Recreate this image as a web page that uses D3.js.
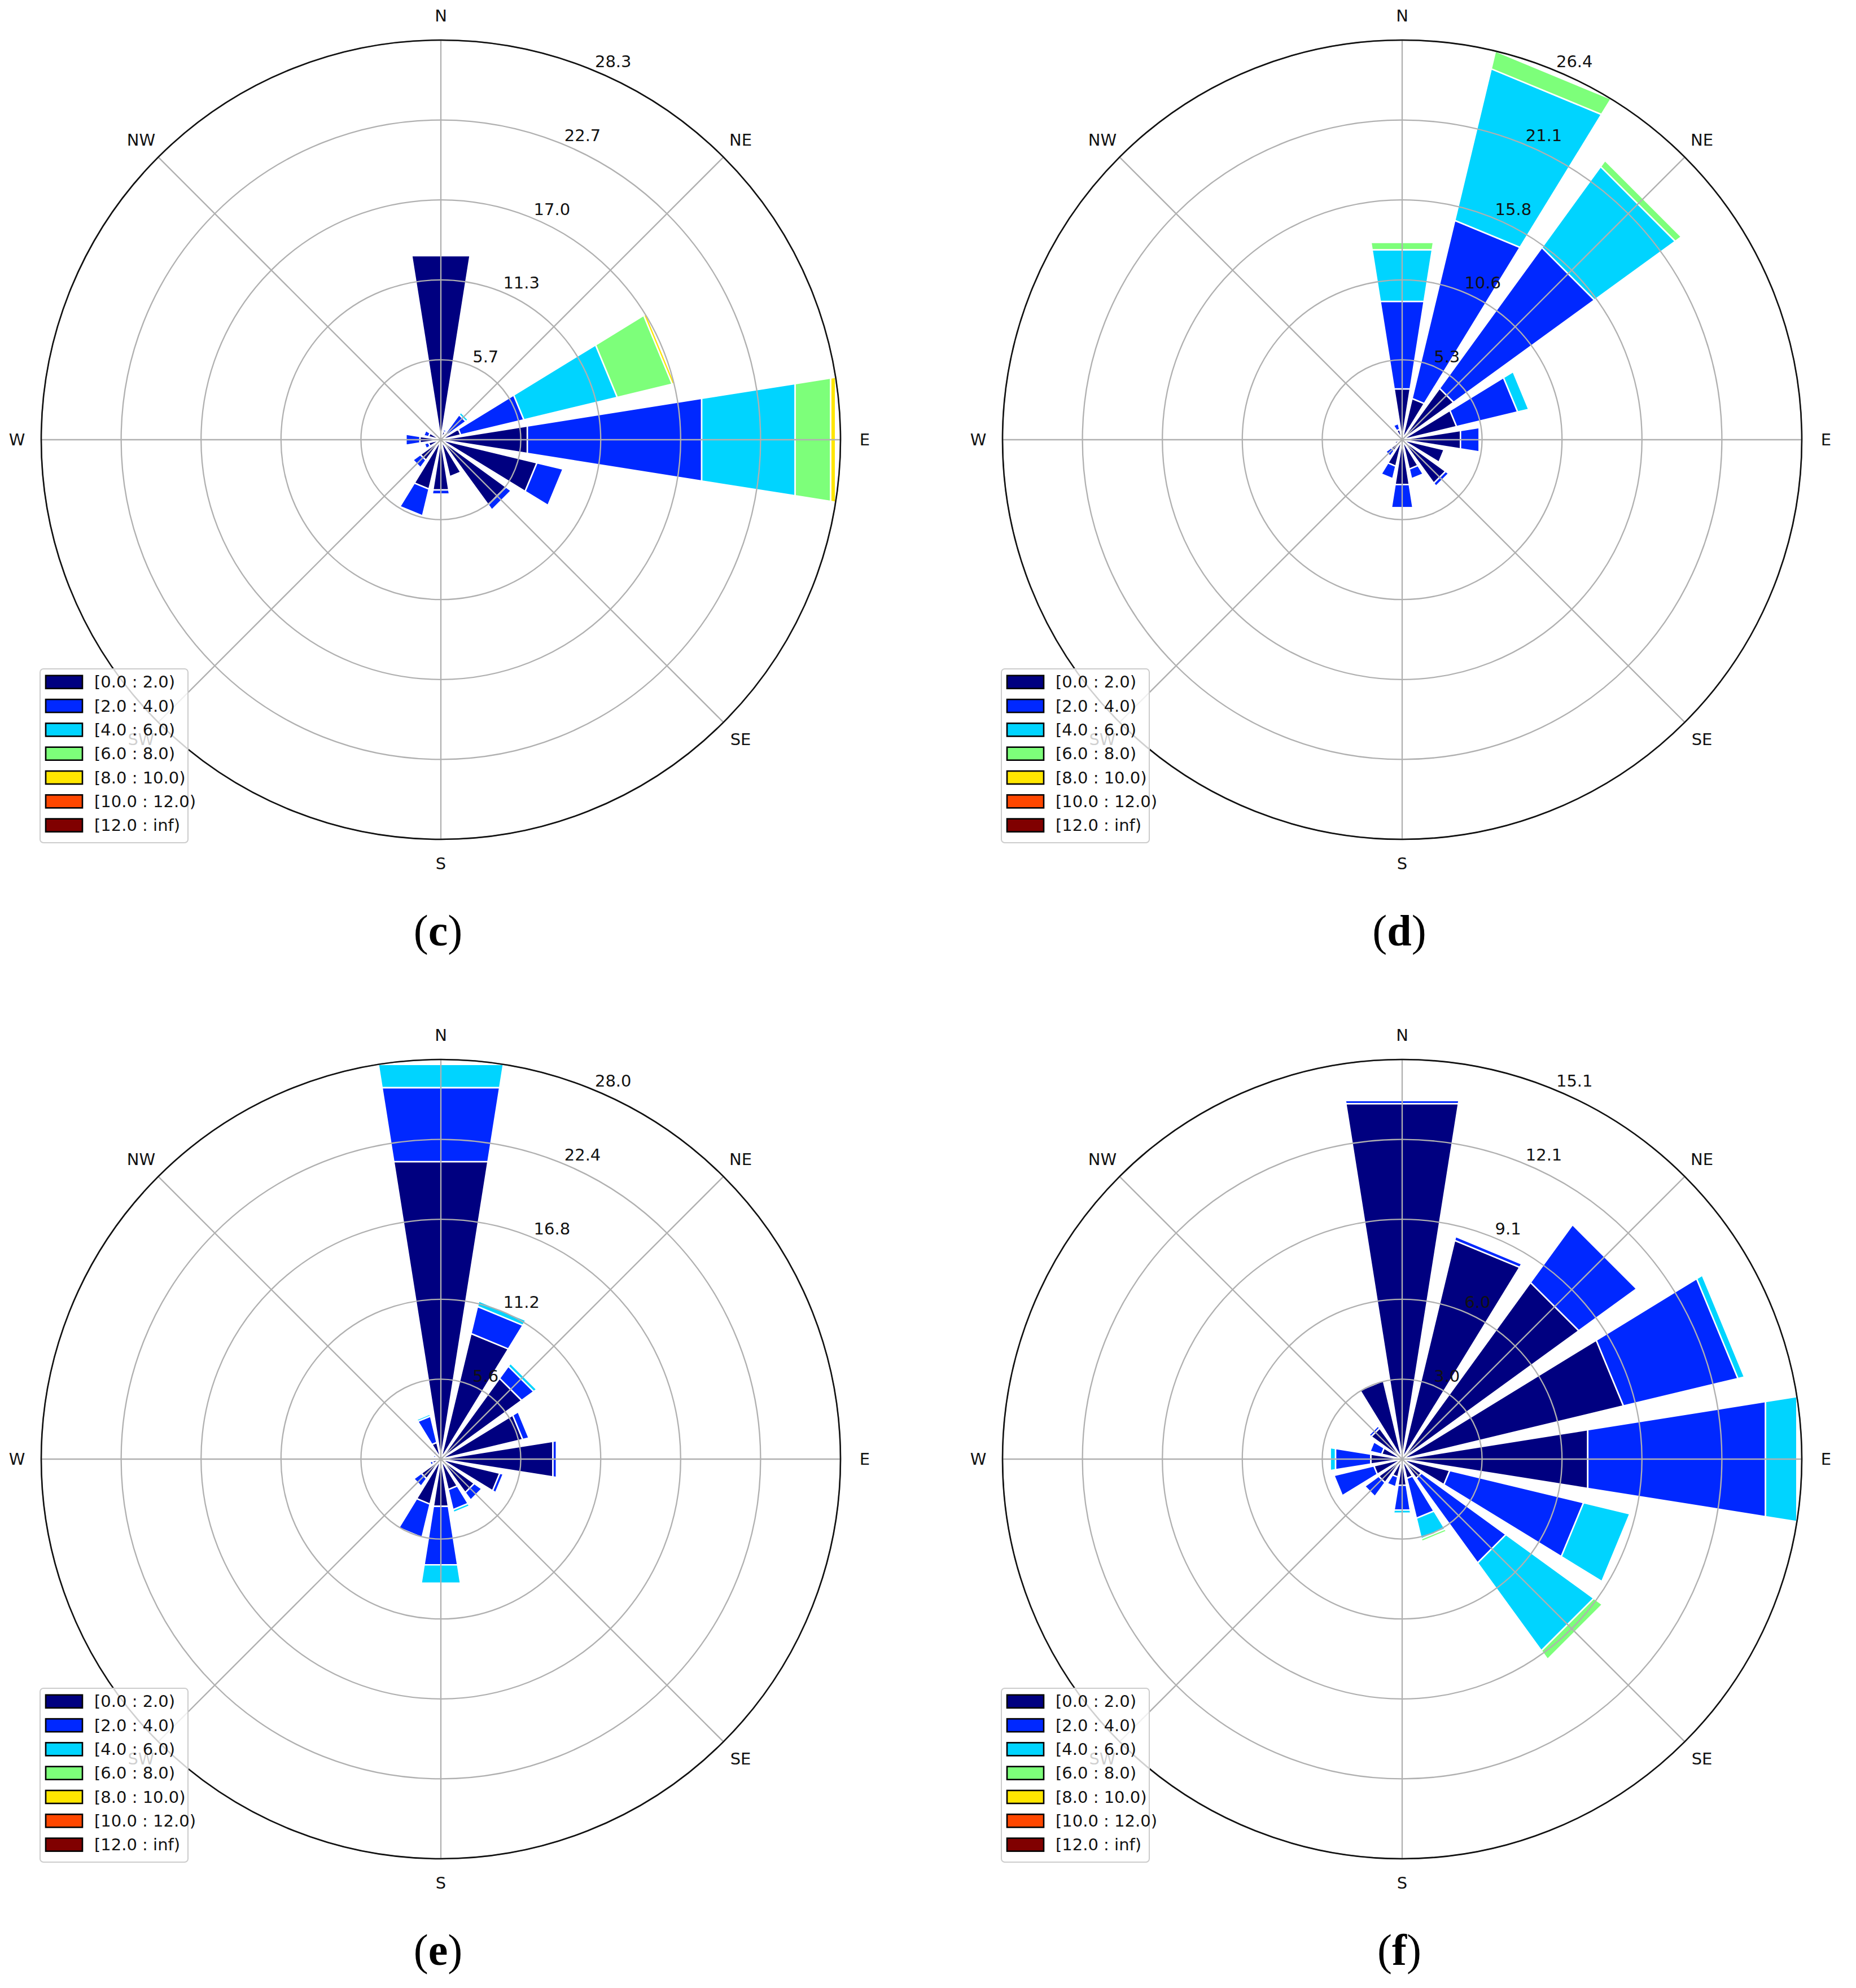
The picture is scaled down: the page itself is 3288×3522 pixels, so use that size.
<!DOCTYPE html>
<html>
<head>
<meta charset="utf-8">
<script src="https://cdn.jsdelivr.net/npm/d3@7"></script>
<style>
  body { margin: 0; background: #fff; }
  text { font-family: "DejaVu Sans", sans-serif; fill: #111; }
</style>
</head>
<body>
<div id="chart"></div>
<script>
//Data:
//16 sectors, clockwise from north
var directions = ["N", "NNE", "NE", "ENE", "E", "ESE", "SE", "SSE",
                  "S", "SSW", "SW", "WSW", "W", "WNW", "NW", "NNW"];
var compassLabels = ["N", "NE", "E", "SE", "S", "SW", "W", "NW"];
var binLabels = ["[0.0 : 2.0)", "[2.0 : 4.0)", "[4.0 : 6.0)", "[6.0 : 8.0)",
                 "[8.0 : 10.0)", "[10.0 : 12.0)", "[12.0 : inf)"];

//frequency (%) per sector, stacked by speed bin
var dataC = [[13.2], [0.6, 0.15], [0.6, 1.6, 0.2], [1.45, 4.6, 6.8, 4.0, 0.2],
             [6.2, 12.5, 6.7, 2.55, 0.35], [7.0, 1.9], [5.7, 0.45], [2.7, 0.1],
             [3.6, 0.3], [3.6, 1.95], [1.8, 0.65], [0.9, 0.3],
             [1.5, 1.0], [0.9, 0.35], [0.5, 0.1], [0.4]];
var dataD = [[3.4, 5.85, 3.45, 0.5], [2.8, 12.1, 10.3, 1.2], [4.2, 11.5, 6.6, 0.5], [3.7, 4.15, 0.75],
             [3.9, 1.25], [2.85], [3.55, 0.25], [2.0, 0.65],
             [3.0, 1.55, 0.1], [1.8, 0.85], [0.9, 0.45], [0.5],
             [0.3, 0.2], [0.3], [0.5], [0.7, 0.4]];
var dataE = [[21.1, 5.25, 1.65], [9.05, 1.95, 0.4], [7.0, 1.05, 0.25], [5.9, 0.45],
             [7.95, 0.25], [4.25, 0.25], [2.9, 0.65], [2.2, 1.45, 0.2],
             [3.35, 4.15, 1.3], [3.25, 2.4, 0.1], [1.7, 0.65], [0.6, 0.2],
             [0.5], [0.4, 0.15], [0.5, 0.2], [1.2, 1.9, 0.15]];
var dataF = [[13.6, 0.12], [8.5, 0.15], [8.25, 2.7], [8.6, 4.45, 0.25],
             [7.1, 6.8, 1.2], [1.85, 5.2, 1.8], [0.9, 3.95, 4.1, 0.4], [0.75, 1.55, 0.8, 0.1],
             [1.0, 0.95, 0.12], [0.7, 0.38], [1.1, 0.65], [1.1, 1.55],
             [1.2, 1.35, 0.2], [0.8, 0.45], [1.45, 0.1], [3.05, 0.05]];

//radial tick labels
var ticksC = ["5.7", "11.3", "17.0", "22.7", "28.3"];
var ticksD = ["5.3", "10.6", "15.8", "21.1", "26.4"];
var ticksE = ["5.6", "11.2", "16.8", "22.4", "28.0"];
var ticksF = ["3.0", "6.0", "9.1", "12.1", "15.1"];

var panelNames = ["c", "d", "e", "f"];

//set up svg
var svgWidth = 3288;
var svgHeight = 3522;
var outerR = 708;

//jet colormap, 7 bins
var binColors = ["#000080", "#0028ff", "#00d4ff", "#7dff7a", "#ffe600", "#ff4700", "#800000"];

var svg = d3.select("#chart")
  .append("svg")
  .attr("width", svgWidth)
  .attr("height", svgHeight);

var panels = [
  {data: dataC, ticks: ticksC, name: panelNames[0], cx: 781, cy: 779},
  {data: dataD, ticks: ticksD, name: panelNames[1], cx: 2484, cy: 779},
  {data: dataE, ticks: ticksE, name: panelNames[2], cx: 781, cy: 2585},
  {data: dataF, ticks: ticksF, name: panelNames[3], cx: 2484, cy: 2585}
];

var opening = 0.8; // fraction of the sector a bar covers
var sector = 2 * Math.PI / directions.length;

var quad = d3.line().curve(d3.curveLinearClosed);

panels.forEach(function(p) {
  var g = svg.append("g")
    .attr("transform", `translate(${p.cx}, ${p.cy})`);

  //rmax = largest stacked total
  var rmax = d3.max(p.data, d => d3.sum(d));
  var rScale = d3.scaleLinear().domain([0, rmax]).range([0, outerR]);
  var aScale = d3.scaleLinear().domain([0, directions.length]).range([0, 2 * Math.PI]);

  //stacked bars, straight outer edges like the windrose rectangles
  var segs = [];
  p.data.forEach(function(vals, i) {
    var off = 0;
    vals.forEach(function(v, b) {
      segs.push({dir: i, bin: b, r0: off, r1: off + v});
      off += v;
    });
  });

  g.append("g").selectAll("path")
    .data(segs)
    .enter()
    .append("path")
    .attr("d", function(d) {
      var a0 = aScale(d.dir) - sector * opening / 2;
      var a1 = aScale(d.dir) + sector * opening / 2;
      return quad([
        d3.pointRadial(a0, rScale(d.r0)),
        d3.pointRadial(a1, rScale(d.r0)),
        d3.pointRadial(a1, rScale(d.r1)),
        d3.pointRadial(a0, rScale(d.r1))
      ]);
    })
    .attr("fill", d => binColors[d.bin])
    .attr("stroke", "#fff")
    .attr("stroke-width", 2.6)
    .attr("stroke-linejoin", "miter");

  //grid circles
  var tickVals = p.ticks.map((t, k) => rmax * (k + 1) / p.ticks.length);
  g.append("g").selectAll("circle")
    .data(tickVals)
    .enter()
    .append("circle")
    .attr("r", d => rScale(d))
    .attr("fill", "none")
    .attr("stroke", "#b0b0b0")
    .attr("stroke-width", 2.3);

  //radial grid lines every 45 deg
  g.append("g").selectAll("line")
    .data(compassLabels)
    .enter()
    .append("line")
    .attr("x1", 0).attr("y1", 0)
    .attr("x2", (d, k) => d3.pointRadial(k * Math.PI / 4, outerR)[0])
    .attr("y2", (d, k) => d3.pointRadial(k * Math.PI / 4, outerR)[1])
    .attr("stroke", "#b0b0b0")
    .attr("stroke-width", 2.3);

  //outer spine
  g.append("circle")
    .attr("r", outerR)
    .attr("fill", "none")
    .attr("stroke", "#111")
    .attr("stroke-width", 2.6);

  //radial tick labels at 22.5 deg
  g.append("g").selectAll("text")
    .data(p.ticks)
    .enter()
    .append("text")
    .attr("x", (d, k) => d3.pointRadial(Math.PI / 8, rScale(tickVals[k]))[0] + 2)
    .attr("y", (d, k) => d3.pointRadial(Math.PI / 8, rScale(tickVals[k]))[1] - 6)
    .attr("font-size", 29)
    .text(d => d);

  //compass labels
  g.append("g").selectAll("text")
    .data(compassLabels)
    .enter()
    .append("text")
    .attr("x", (d, k) => d3.pointRadial(k * Math.PI / 4, 751)[0])
    .attr("y", (d, k) => d3.pointRadial(k * Math.PI / 4, 751)[1])
    .attr("text-anchor", "middle")
    .attr("dominant-baseline", "central")
    .attr("font-size", 29)
    .text(d => d);

  //legend
  var leg = g.append("g")
    .attr("transform", "translate(-710, 406)");
  leg.append("rect")
    .attr("width", 262)
    .attr("height", 308)
    .attr("rx", 6)
    .attr("fill", "#fff")
    .attr("fill-opacity", 0.8)
    .attr("stroke", "#cccccc")
    .attr("stroke-width", 2);
  var rows = leg.selectAll(".row")
    .data(binLabels)
    .enter()
    .append("g")
    .attr("class", "row")
    .attr("transform", (d, k) => `translate(0, ${23.3 + k * 42.3})`);
  rows.append("rect")
    .attr("x", 10)
    .attr("y", -11.5)
    .attr("width", 65)
    .attr("height", 23)
    .attr("fill", (d, k) => binColors[k])
    .attr("stroke", "#000")
    .attr("stroke-width", 2.6);
  rows.append("text")
    .attr("x", 96)
    .attr("dominant-baseline", "central")
    .attr("font-size", 29)
    .text(d => d);

  //panel letter
  var lab = g.append("text")
    .attr("x", -5)
    .attr("y", 896)
    .attr("text-anchor", "middle")
    .style("font-family", "'Liberation Serif', serif")
    .attr("font-size", 78)
    .style("fill", "#000");
  lab.append("tspan").text("(");
  lab.append("tspan").attr("font-weight", "bold").text(p.name);
  lab.append("tspan").text(")");
});
</script>
</body>
</html>
